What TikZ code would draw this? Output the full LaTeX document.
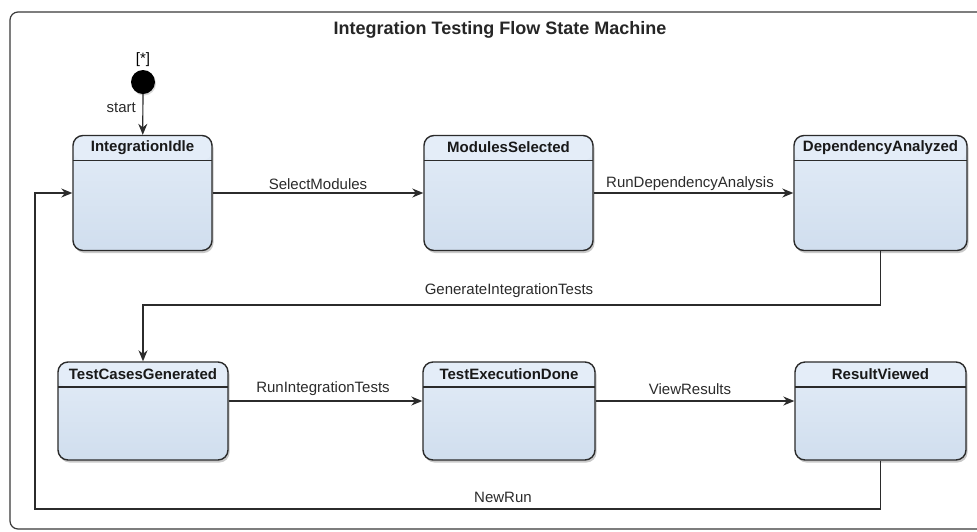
\documentclass[tikz,border=0pt]{standalone}
\usepackage{fontspec}
\setmainfont{Liberation Sans}
\usetikzlibrary{arrows.meta,shadows,calc}

\definecolor{boxtop}{HTML}{E3ECF7}
\definecolor{boxbot}{HTML}{D0DEEE}
\definecolor{headfill}{HTML}{E4EDF8}
\definecolor{ink}{HTML}{2B2B2B}
\definecolor{framecol}{HTML}{3A3A3A}

\tikzset{
  statebox/.style={draw=ink, line width=1.4pt, rounded corners=10pt, inner sep=0pt,
    top color=boxtop, bottom color=boxbot,
    drop shadow={shadow xshift=1.5pt, shadow yshift=-2.5pt, opacity=0.35, fill=black!60},
    path picture={
      \fill[headfill] (path picture bounding box.north west) rectangle ([yshift=-25pt]path picture bounding box.north east);
      \draw[ink, line width=1.2pt] ([yshift=-25pt]path picture bounding box.north west) -- ([yshift=-25pt]path picture bounding box.north east);
    }},
  statename/.style={font=\fontsize{15}{17}\selectfont\bfseries, text=black!90, inner sep=0pt},
  trans/.style={draw=ink, line width=1.2pt, -{Stealth[length=11pt, width=9pt]}},
  evlabel/.style={font=\fontsize{15}{17}\selectfont, text=ink, inner sep=0pt}
}

\begin{document}
\begin{tikzpicture}[x=1pt, y=-1pt]
  \useasboundingbox (0,0) rectangle (977,531);
  \fill[white] (0,0) rectangle (977,531);

  % outer frame of the diagram
  \draw[framecol, line width=1.2pt, rounded corners=8pt] (10,12) rectangle (995,529);
  \node[font=\fontsize{18}{21}\selectfont\bfseries, text=black!85] (title) at (500,30) {Integration Testing Flow State Machine};

  % initial pseudo-state
  \node[circle, fill=black, minimum size=24pt, inner sep=0pt,
        drop shadow={shadow xshift=1pt, shadow yshift=-1.5pt, opacity=0.3}] (init) at (143,82) {};
  \node[evlabel, text=black] (initmark) at (143,60) {[*]};

  % states, first row
  \node[statebox, minimum width=139pt, minimum height=115pt] (idle) at (142.5,193) {};
  \node[statebox, minimum width=169pt, minimum height=115pt] (sel) at (508.5,193) {};
  \node[statebox, minimum width=173pt, minimum height=115pt] (dep) at (880.5,193) {};
  % states, second row
  \node[statebox, minimum width=170pt, minimum height=98pt] (gen) at (143,411) {};
  \node[statebox, minimum width=172pt, minimum height=98pt] (exec) at (509,411) {};
  \node[statebox, minimum width=171pt, minimum height=98pt] (view) at (880.5,411) {};

  \foreach \s/\t in {idle/IntegrationIdle, sel/ModulesSelected, dep/DependencyAnalyzed,
                     gen/TestCasesGenerated, exec/TestExecutionDone, view/ResultViewed}
    \node[statename] (\s-name) at ($(\s.north)+(0,12.5)$) {\t};

  % transitions
  \draw[trans] (init) -- (idle);
  \node[evlabel, anchor=east] (startlbl) at (136,108) {start};

  \draw[trans] (idle) -- (sel);
  \node[evlabel] (l1) at (318,184) {SelectModules};

  \draw[trans] (sel) -- (dep);
  \node[evlabel] (l2) at (690,184) {RunDependencyAnalysis};

  \coordinate (genbend) at (880.5,305);
  \draw[trans] (dep.south) -- (genbend) -| (gen.north);
  \node[evlabel] (l3) at (509,291) {GenerateIntegrationTests};

  \draw[trans] ([yshift=10pt]gen.east) -- ([yshift=10pt]exec.west);
  \node[evlabel] (l4) at (323,389) {RunIntegrationTests};

  \draw[trans] ([yshift=10pt]exec.east) -- ([yshift=10pt]view.west);
  \node[evlabel] (l5) at (690,389) {ViewResults};

  \coordinate (runbend) at (35,509);
  \draw[trans] (view.south) |- (runbend) |- (idle.west);
  \node[evlabel] (l6) at (503,497) {NewRun};
\end{tikzpicture}
\end{document}
